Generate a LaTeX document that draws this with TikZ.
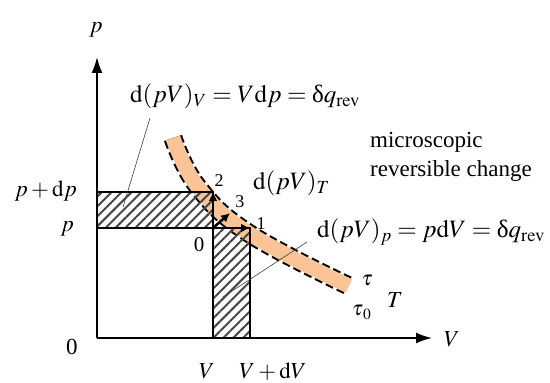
\documentclass[tikz,border=0pt]{standalone}
\usepackage{mathptmx}
\usepackage[no-math]{fontspec}
\setmainfont{Liberation Serif}
\usetikzlibrary{arrows.meta,positioning,patterns.meta}
\definecolor{cband}{RGB}{250,196,150}
\definecolor{chatch}{RGB}{70,70,70}

\begin{document}
\begin{tikzpicture}[x=1pt,y=1pt,
  font=\fontsize{23}{29}\selectfont,
  axis/.style={line width=1.8pt,-{Latex[length=16pt,width=11pt]}},
  hatchbox/.style={draw=black,line width=1.5pt,
                   pattern={Lines[angle=45,distance=7pt,line width=2pt]},pattern color=chatch},
  arr/.style={line width=2.6pt,-{Latex[length=9pt,width=9pt]}},
  bandedge/.style={line width=19pt,dash pattern=on 8pt off 4pt},
  bandfill/.style={line width=15pt,cband},
  leader/.style={line width=0.6pt,black!75},
  lbl/.style={inner sep=0pt},
  formula/.style={inner sep=0pt,font=\fontsize{25}{30}\selectfont},
  small/.style={inner sep=0pt,font=\fontsize{18}{20}\selectfont}]
  \useasboundingbox (-97,-45) rectangle (453,338);
  % points of the cycle
  \coordinate (O) at (0,0);
  \coordinate (P0) at (116,110);
  \coordinate (P1) at (153,110);
  \coordinate (P2) at (116,146);
  \coordinate (P3) at (133,125);
  \coordinate (ptip) at (0,281);
  \coordinate (Vtip) at (335,0);
  % isotherm band tau0 .. tau
  \draw[bandedge] plot[smooth,tension=0.7] coordinates {(76,200) (101,151) (153,104) (252,52)};
  \draw[bandfill] plot[smooth,tension=0.7] coordinates {(76,200) (101,151) (153,104) (252,52)};
  % areas
  \draw[hatchbox] (0,110) rectangle (P2);
  \draw[hatchbox] (116,0) rectangle (P1);
  \draw[axis] (O) -- (ptip);
  \draw[axis] (O) -- (Vtip);
  \foreach \b in {P1,P2,P3}
     \draw[arr] (P0) -- (\b);
  % labels
  \node[lbl,anchor=base] (pAx) at (-1,305) {$p$};
  \node[lbl,anchor=base] (VAx) at (355,-9) {$V$};
  \node[lbl,anchor=base] (zero) at (-25,-17) {0};
  \node[lbl,anchor=base east] (ppdp) at (-20,141) {$p+\mathrm{d}p$};
  \node[lbl,anchor=base east] (pl) at (-23,106) {$p$};
  \node[lbl,anchor=base] (Vl) at (110,-41) {$V$};
  \node[lbl,anchor=base] (VdVl) at (176,-41) {$V+\mathrm{d}V$};
  \node[lbl,anchor=base,font=\fontsize{21}{24}\selectfont] (n0) at (102,86) {0};
  \node[small,anchor=base] (n1) at (164,108) {1};
  \node[small,anchor=base] (n2) at (122,151) {2};
  \node[small,anchor=base] (n3) at (143,130) {3};
  \node[formula,anchor=base west] (fV) at (33,235)
    {$\mathrm{d}(pV)_V = V\mathrm{d}p = \mbox{δ}q_\mathrm{rev}$};
  \node[formula,anchor=base west] (fT) at (156,148) {$\mathrm{d}(pV)_T$};
  \node[formula,anchor=base west] (fp) at (220,100)
    {$\mathrm{d}(pV)_p = p\mathrm{d}V = \mbox{δ}q_\mathrm{rev}$};
  \node[lbl,anchor=north west,align=left] (micro) at (273,206)
    {microscopic\\reversible change};
  \node[lbl,anchor=base,font=\fontsize{21}{24}\selectfont] (tau) at (270,52) {$\tau$};
  \node[lbl,anchor=base west,font=\fontsize{21}{24}\selectfont] (tau0) at (255,22) {$\tau_{\,0}$};
  \node[lbl,anchor=base] (Tl) at (298,30) {$T$};
  % leaders
  \coordinate (aV) at (53,220);
  \coordinate (hV) at (26,131);
  \coordinate (ap) at (210,96);
  \coordinate (hp) at (126,41);
  \draw[leader] (aV) -- (hV);
  \draw[leader] (ap) -- (hp);
\end{tikzpicture}
\end{document}
